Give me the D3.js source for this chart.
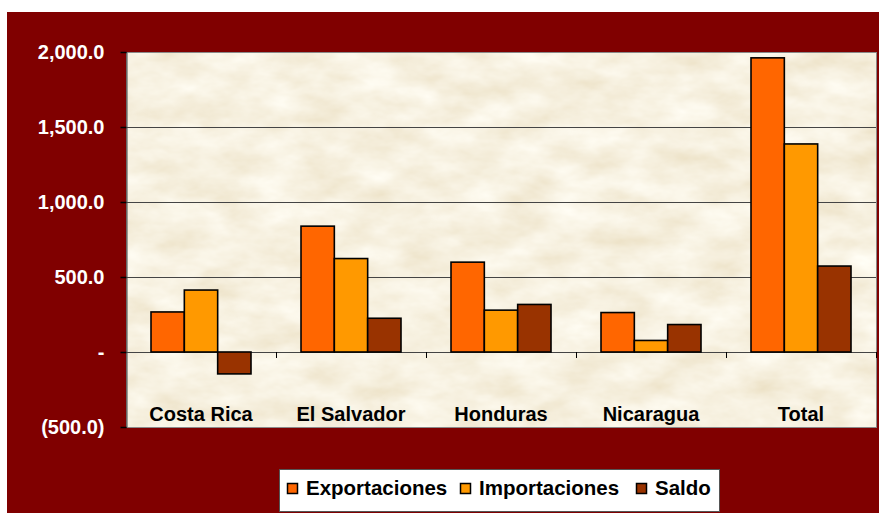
<!DOCTYPE html>
<html>
<head>
<meta charset="utf-8">
<script src="https://cdn.jsdelivr.net/npm/d3@7"></script>
<style>
  body { margin: 0; background: #fff; }
  svg { display: block; font-family: Arial, "Liberation Sans", sans-serif; }
</style>
</head>
<body>
<div id="wrapper"></div>
<script>
// datos (millones US$)
const paises = ["Costa Rica", "El Salvador", "Honduras", "Nicaragua", "Total"];
const series = ["Exportaciones", "Importaciones", "Saldo"];
const exportaciones = [267, 839, 599, 263, 1961];
const importaciones = [413, 623, 279, 77, 1387];
const saldo = [-146, 225, 317, 183, 573];
const yTicks = [-500, 0, 500, 1000, 1500, 2000];
const colores = ["#FF6600", "#FF9900", "#993300"];

function draw() {
  const W = 879, H = 513;
  const plot = { left: 126, top: 52, right: 876, bottom: 427 };

  const svg = d3.select("#wrapper")
    .append("svg")
      .attr("width", W)
      .attr("height", H);

  // textura de pergamino
  const defs = svg.append("defs");
  const f = defs.append("filter")
    .attr("id", "parch")
    .attr("x", 0).attr("y", 0).attr("width", 1).attr("height", 1);
  f.append("feTurbulence")
    .attr("type", "fractalNoise")
    .attr("baseFrequency", "0.02 0.04")
    .attr("numOctaves", 4)
    .attr("seed", 7);
  f.append("feColorMatrix")
    .attr("type", "matrix")
    .attr("values", "0.2 0 0 0 0.83  0.28 0 0 0 0.74  0.42 0 0 0 0.54  0 0 0 0 1");

  // panel rojo
  svg.append("rect")
    .attr("x", 7).attr("y", 12)
    .attr("width", W - 7).attr("height", H - 12)
    .attr("fill", "#800000");

  svg.append("rect")
    .attr("x", plot.left).attr("y", plot.top)
    .attr("width", plot.right - plot.left)
    .attr("height", plot.bottom - plot.top)
    .attr("filter", "url(#parch)");

  const y = d3.scaleLinear()
    .domain([-500, 2000])
    .range([plot.bottom, plot.top]);

  const x0 = d3.scaleBand()
    .domain(paises)
    .range([plot.left, plot.right])
    .paddingInner(1 / 3)
    .paddingOuter(1 / 6);

  const x1 = d3.scaleBand()
    .domain(series)
    .range([0, x0.bandwidth()]);

  // lineas de cuadricula
  svg.append("g")
    .selectAll("line")
    .data(yTicks.filter(d => d > -500))
    .enter()
    .append("line")
    .attr("x1", plot.left)
    .attr("x2", plot.right)
    .attr("y1", d => Math.round(y(d)) + 0.5)
    .attr("y2", d => Math.round(y(d)) + 0.5)
    .attr("stroke", "#444")
    .attr("stroke-width", 1);

  // borde del area
  svg.append("rect")
    .attr("x", plot.left + 0.5).attr("y", plot.top + 0.5)
    .attr("width", plot.right - plot.left)
    .attr("height", plot.bottom - plot.top)
    .attr("fill", "none")
    .attr("stroke", "#8a8a8a")
    .attr("stroke-width", 1);

  // barras
  const valores = [exportaciones, importaciones, saldo];
  const rows = [];
  paises.forEach((p, i) => {
    series.forEach((s, j) => rows.push({ pais: p, serie: s, valor: valores[j][i], color: colores[j] }));
  });

  svg.append("g")
    .selectAll("rect")
    .data(rows)
    .enter()
    .append("rect")
    .attr("x", d => x0(d.pais) + x1(d.serie))
    .attr("y", d => y(Math.max(0, d.valor)))
    .attr("width", x1.bandwidth())
    .attr("height", d => Math.abs(y(d.valor) - y(0)))
    .attr("fill", d => d.color)
    .attr("stroke", "#000")
    .attr("stroke-width", 1.6);

  // eje Y
  const fmt = d3.format(",.1f");
  const yAxis = d3.axisLeft(y)
    .tickValues(yTicks)
    .tickSize(6)
    .tickPadding(16)
    .tickFormat(d => d === 0 ? "-" : d < 0 ? "(" + fmt(-d) + ")" : fmt(d));

  const gy = svg.append("g")
    .attr("transform", "translate(" + (plot.left + 0.5) + ",0)")
    .call(yAxis);
  gy.select(".domain").attr("stroke", "#444");
  gy.selectAll(".tick line").attr("stroke", "#000").attr("stroke-width", 1.5);
  gy.selectAll(".tick text")
    .attr("fill", "#fff")
    .attr("font-size", 20)
    .attr("font-weight", "bold");

  // eje X en cero
  const bounds = x0.domain().map(p => x0(p) - x0.step() * x0.paddingInner() / 2);
  bounds.push(plot.right);
  svg.append("g")
    .selectAll("line")
    .data(bounds.slice(1))
    .enter()
    .append("line")
    .attr("x1", d => Math.round(d) + 0.5)
    .attr("x2", d => Math.round(d) + 0.5)
    .attr("y1", y(0))
    .attr("y2", y(0) + 6)
    .attr("stroke", "#000")
    .attr("stroke-width", 1);

  svg.append("g")
    .selectAll("text")
    .data(paises)
    .enter()
    .append("text")
    .attr("x", d => x0(d) + x0.bandwidth() / 2)
    .attr("y", 421)
    .attr("text-anchor", "middle")
    .attr("font-size", 20)
    .attr("font-weight", "bold")
    .attr("fill", "#000")
    .text(d => d);

  // leyenda
  const leg = svg.append("g");
  leg.append("rect")
    .attr("x", 279.5).attr("y", 469.5)
    .attr("width", 440).attr("height", 42)
    .attr("fill", "#fff")
    .attr("stroke", "#555");
  const legX = [287, 460, 636];
  const items = leg.selectAll("g")
    .data(series)
    .enter()
    .append("g")
    .attr("transform", (d, i) => "translate(" + legX[i] + ",483)");
  items.append("rect")
    .attr("x", 0.5).attr("y", 0.5)
    .attr("width", 10).attr("height", 10)
    .attr("fill", (d, i) => colores[i])
    .attr("stroke", "#000")
    .attr("stroke-width", 1.5);
  items.append("text")
    .attr("x", 19)
    .attr("y", 12)
    .attr("font-size", 20.5)
    .attr("font-weight", "bold")
    .attr("fill", "#000")
    .text(d => d);
}
draw();
</script>
</body>
</html>
